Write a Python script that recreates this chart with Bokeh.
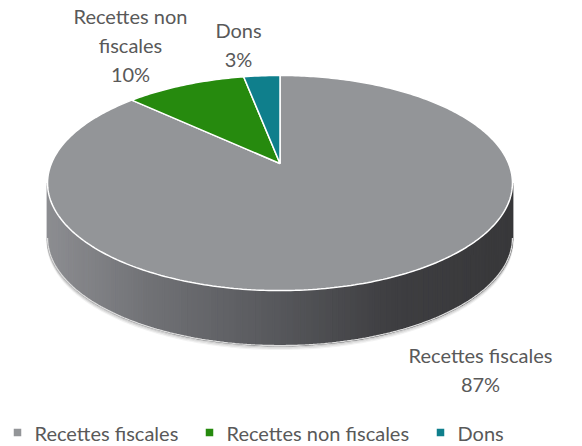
import numpy as np
from bokeh.plotting import figure
from bokeh.models import Range1d
from bokeh.core.properties import value
from bokeh.embed import file_html
from bokeh.resources import INLINE

# ---- data ----
categories = ["Recettes fiscales", "Recettes non fiscales", "Dons"]
shares = [87, 10, 3]
pct_labels = ["87%", "10%", "3%"]
label_wrap = [["Recettes fiscales"], ["Recettes non", "fiscales"], ["Dons"]]
colors = ["#939598", "#268a0e", "#0f7f8c"]

# ---- layout / style ----
W, H = 582, 446
FONT = value("Lato")
FSIZE = "20px"
TXT = "#595959"

p = figure(width=W, height=H, x_range=Range1d(0, W), y_range=Range1d(H, 0),
           output_backend="svg", toolbar_location=None, min_border=0)
p.axis.visible = False
p.grid.visible = False
p.outline_line_color = None
p.background_fill_color = "white"
p.border_fill_color = "white"

# perspective projection of a tilted disk (angle measured clockwise from 12 o'clock)
CX, CY = 279.5, 163.0
A, B, K = 228.6, 104.0, 0.1814
DEPTH = 55.0


def proj(theta, dy=0.0):
    X = np.sin(theta)
    Z = np.cos(theta)
    d = 1 + K * Z
    return CX + A * X / d, CY - B * Z / d + dy


# ---- side (front rim) with horizontal gradient ----
t1 = np.pi / 2 + np.arcsin(K)
t2 = 3 * np.pi / 2 - np.arcsin(K)
grad_x = [47, 150, 280, 390, 512]
grad_c = [(140, 141, 145), (112, 113, 117), (86, 87, 91), (62, 62, 65), (56, 56, 58)]


def grad(x):
    r = np.interp(x, grad_x, [c[0] for c in grad_c])
    g = np.interp(x, grad_x, [c[1] for c in grad_c])
    b = np.interp(x, grad_x, [c[2] for c in grad_c])
    return "#%02x%02x%02x" % (int(round(r)), int(round(g)), int(round(b)))


# soft shadow under the rim
tt = np.linspace(t1, t2, 200)
for off, alpha in [(3.5, 0.10), (2.2, 0.18), (1.0, 0.28)]:
    bx, by = proj(tt, DEPTH + off)
    p.line(bx, by, line_color="#808080", line_alpha=alpha, line_width=2.0)

n = 120
edges = np.linspace(t1, t2, n + 1)
sxs, sys, scs = [], [], []
for i in range(n):
    a0, a1 = edges[i], edges[min(i + 1, n)]
    xa, ya = proj(np.array([a0, a1]))
    xb, yb = proj(np.array([a1, a0]), DEPTH)
    sxs.append(list(xa) + list(xb))
    sys.append(list(ya) + list(yb))
    scs.append(grad((xa.mean() + xb.mean()) / 2))
p.patches(sxs, sys, fill_color=scs, line_color=scs, line_width=1.6)

bx, by = proj(tt, DEPTH)
p.line(bx, by, line_color="#dcdcdc", line_width=1.3)

# ---- top slices ----
fr = np.array(shares, dtype=float) / sum(shares)
starts = np.concatenate([[0], np.cumsum(fr)[:-1]]) * 2 * np.pi
ends = np.cumsum(fr) * 2 * np.pi
xs, ys = [], []
for s, e in zip(starts, ends):
    th = np.linspace(s, e, max(8, int((e - s) / (2 * np.pi) * 400)))
    px, py = proj(th)
    xs.append([CX] + list(px))
    ys.append([CY] + list(py))
p.patches(xs, ys, fill_color=colors, line_color="white", line_width=1.5)

# ---- data labels ----
label_pos = [(480, 368.5), (130, 44), (238, 44)]
LINE = 29
lx, ly, lt = [], [], []
for lines, pct, (x0, y0) in zip(label_wrap, pct_labels, label_pos):
    allines = lines + [pct]
    m = len(allines)
    for j, t in enumerate(allines):
        lx.append(x0)
        ly.append(y0 + (j - (m - 1) / 2) * LINE)
        lt.append(t)
p.text(lx, ly, text=lt, text_font=FONT, text_font_size=FSIZE, text_color=TXT,
       text_align="center", text_baseline="middle")

# ---- legend ----
mk_x = [17, 209, 440]
leg_y = 432
p.scatter(mk_x, [leg_y] * 3, marker="square", size=7.5, fill_color=colors, line_color=None)
p.text([x + 17 for x in mk_x], [leg_y] * 3, text=categories, text_font=FONT,
       text_font_size=FSIZE, text_color=TXT, text_align="left", text_baseline="middle")

open("out.html", "w").write(file_html(p, INLINE))
